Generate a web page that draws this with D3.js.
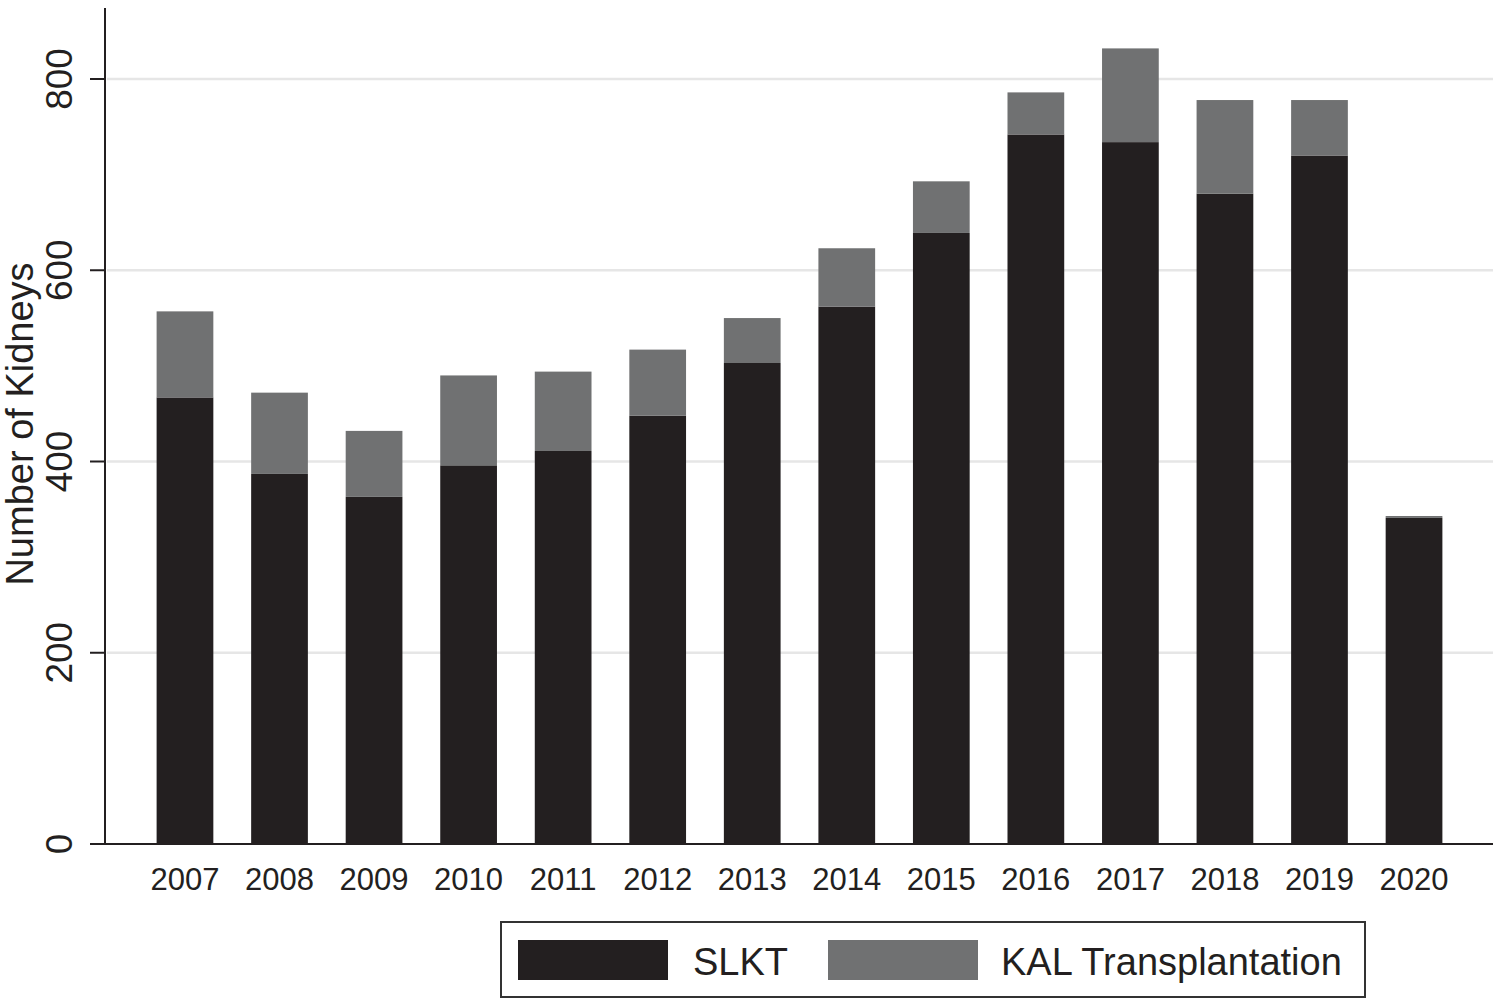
<!DOCTYPE html>
<html>
<head>
<meta charset="utf-8">
<script src="https://cdn.jsdelivr.net/npm/d3@7"></script>
<style>
  html, body { margin: 0; padding: 0; background: #fff; }
  svg { display: block; font-family: "Liberation Sans", Arial, Helvetica, sans-serif; }
</style>
</head>
<body>
<svg id="chart" width="1500" height="1004"></svg>
<script>
const years = ["2007","2008","2009","2010","2011","2012","2013","2014","2015","2016","2017","2018","2019","2020"];
const slkt = [467, 387, 363, 396, 411, 448, 503, 562, 639, 742, 734, 680, 720, 341];
const kal  = [90, 85, 69, 94, 83, 69, 47, 61, 54, 44, 98, 98, 58, 2];
const yTicks = [0, 200, 400, 600, 800];
const seriesNames = ["SLKT", "KAL Transplantation"];
const seriesColors = ["#231f20", "#707172"];

const svg = d3.select("#chart");

const x = d3.scaleBand().domain(years).range([137.7, 1461.3]).paddingInner(0.4).paddingOuter(0.2);
const y = d3.scaleLinear().domain([0, 800]).range([844, 79]);

const axisLeftX = 105, axisRightX = 1493, plotTop = 8;

// gridlines
svg.append("g").selectAll("line").data(yTicks.filter(d => d > 0)).join("line")
  .attr("x1", axisLeftX + 2).attr("x2", axisRightX)
  .attr("y1", d => y(d)).attr("y2", d => y(d))
  .attr("stroke", "#e6e6e6").attr("stroke-width", 2.5);

// stacked data
const rows = years.map((yr, i) => ({ year: yr, SLKT: slkt[i], KAL: kal[i] }));
const stack = d3.stack().keys(["SLKT", "KAL"])(rows);

svg.append("g").selectAll("g").data(stack).join("g")
  .attr("fill", (d, i) => seriesColors[i])
  .selectAll("rect").data(d => d).join("rect")
  .attr("x", d => x(d.data.year))
  .attr("width", x.bandwidth())
  .attr("y", d => y(d[1]))
  .attr("height", d => y(d[0]) - y(d[1]));

// y axis line
svg.append("line").attr("x1", axisLeftX).attr("x2", axisLeftX)
  .attr("y1", plotTop).attr("y2", y(0) + 1)
  .attr("stroke", "#231f20").attr("stroke-width", 2);
// x axis line
svg.append("line").attr("x1", 90).attr("x2", axisRightX)
  .attr("y1", y(0)).attr("y2", y(0))
  .attr("stroke", "#231f20").attr("stroke-width", 2);

// y ticks
const yt = svg.append("g");
yt.selectAll("line").data(yTicks).join("line")
  .attr("x1", 90).attr("x2", axisLeftX)
  .attr("y1", d => y(d)).attr("y2", d => y(d))
  .attr("stroke", "#231f20").attr("stroke-width", 2);
yt.selectAll("text").data(yTicks).join("text")
  .attr("transform", d => `translate(72,${y(d)}) rotate(-90)`)
  .attr("text-anchor", "middle")
  .attr("font-size", 37)
  .attr("fill", "#231f20")
  .text(d => d);

// x labels
svg.append("g").selectAll("text").data(years).join("text")
  .attr("x", d => x(d) + x.bandwidth() / 2)
  .attr("y", 890)
  .attr("text-anchor", "middle")
  .attr("font-size", 31)
  .attr("fill", "#231f20")
  .text(d => d);

// y title
svg.append("text")
  .attr("transform", "translate(33,424) rotate(-90)")
  .attr("text-anchor", "middle")
  .attr("font-size", 38)
  .attr("fill", "#231f20")
  .text("Number of Kidneys");

// legend
const lg = svg.append("g");
lg.append("rect").attr("x", 501).attr("y", 922).attr("width", 864).attr("height", 75)
  .attr("fill", "#fff").attr("stroke", "#333").attr("stroke-width", 2);
const swX = [518, 828], txX = [693, 1001];
seriesNames.forEach((name, i) => {
  lg.append("rect").attr("x", swX[i]).attr("y", 940).attr("width", 150).attr("height", 40)
    .attr("fill", seriesColors[i]);
  lg.append("text").attr("x", txX[i]).attr("y", 975)
    .attr("font-size", 38).attr("fill", "#231f20").text(name);
});
</script>
</body>
</html>
